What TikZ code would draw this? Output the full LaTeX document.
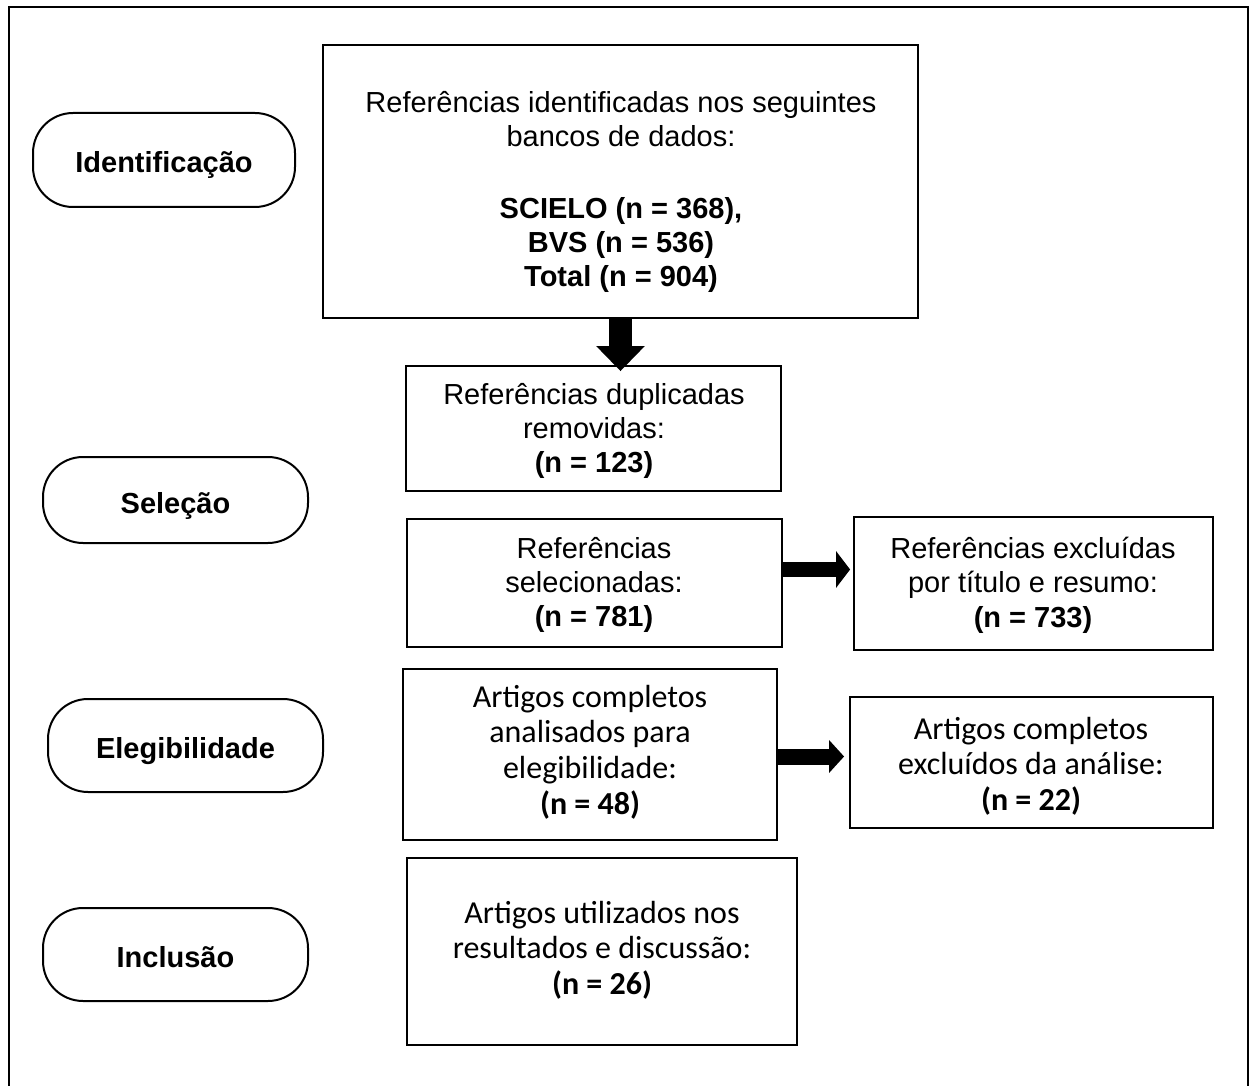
\documentclass[tikz,border=0pt]{standalone}
\usepackage{fontspec}
\setmainfont{Liberation Sans}
\newfontfamily\calib{Carlito}
\usetikzlibrary{arrows.meta}
\begin{document}
\begin{tikzpicture}[x=0.5pt,y=-0.5pt]
\tikzset{
  box/.style={draw, line width=0.9pt, inner sep=0pt},
  atext/.style={align=center, inner sep=0pt, font=\fontsize{14.5}{17.2}\selectfont},
  ctext/.style={align=center, inner sep=0pt, font=\calib\fontsize{16}{17.8}\selectfont},
  pill/.style={draw, line width=1pt, rounded corners=20pt, inner sep=0pt, text height=13pt, text depth=0pt, font=\bfseries\fontsize{14.5}{17}\selectfont},
  frameline/.style={line width=1.2pt}
}
\useasboundingbox (0,0) rectangle (1250,1086);
% outer frame (open at the bottom)
\draw[frameline] (9,1086) -- (9,7) -- (1248,7) -- (1248,1086);

% phase pills
\node[pill, minimum width=131pt, minimum height=47pt] (p1) at (164,160) {Identificação};
\node[pill, minimum width=132.5pt, minimum height=43pt] (p2) at (175.5,500) {Seleção};
\node[pill, minimum width=137.5pt, minimum height=46.5pt] (p3) at (185.5,745.5) {Elegibilidade};
\node[pill, minimum width=132.5pt, minimum height=46.5pt] (p4) at (175.5,954.5) {Inclusão};

% boxes
\node[box, minimum width=297.5pt, minimum height=136.5pt] (b1) at (620.5,181.5) {};
\node[box, minimum width=187.5pt, minimum height=62.5pt] (b2) at (593.5,428.5) {};
\node[box, minimum width=187.5pt, minimum height=64pt] (b3) at (594.5,583) {};
\node[box, minimum width=179.5pt, minimum height=66.5pt] (b4) at (1033.5,583.5) {};
\node[box, minimum width=187pt, minimum height=85.5pt] (b5) at (590,754.5) {};
\node[box, minimum width=181.5pt, minimum height=65.5pt] (b6) at (1031.5,762.5) {};
\node[box, minimum width=195pt, minimum height=93.5pt] (b7) at (602,951.5) {};

% texts
\node[atext] (t1) at (621,192)
  {Referências identificadas nos seguintes\\bancos de dados:\\[18.5pt]\textbf{SCIELO (n = 368),}\\\textbf{BVS (n = 536)}\\\textbf{Total (n = 904)}};
\node[atext] (t2) at (594,431) {Referências duplicadas\\removidas:\\\textbf{(n = 123)}};
\node[atext] (t3) at (594,585) {Referências\\selecionadas:\\\textbf{(n = 781)}};
\node[atext] (t4) at (1033,585) {Referências excluídas\\por título e resumo:\\\textbf{(n = 733)}};
\node[ctext] (t5) at (590,752) {Artigos completos\\analisados para\\elegibilidade:\\\textbf{(n = 48)}};
\node[ctext] (t6) at (1031,766) {Artigos completos\\excluídos da análise:\\\textbf{(n = 22)}};
\node[ctext] (t7) at (602,950) {Artigos utilizados nos\\resultados e discussão:\\\textbf{(n = 26)}};

% block arrows
\draw[line width=11.5pt, -{Triangle[width=23.5pt,length=12.5pt]}, shorten >=-3pt]
  (b1.south) -- (b1.south |- b2.north);
\coordinate (a1s) at ([yshift=6.75pt]b3.east);
\draw[line width=7.5pt, -{Triangle[width=18pt,length=7pt]}, shorten >=1.5pt]
  (a1s) -- (a1s -| b4.west);
\coordinate (a2s) at ([yshift=-1pt]b5.east);
\draw[line width=8pt, -{Triangle[width=16pt,length=7.5pt]}, shorten >=2.5pt]
  (a2s) -- (a2s -| b6.west);
\end{tikzpicture}
\end{document}
